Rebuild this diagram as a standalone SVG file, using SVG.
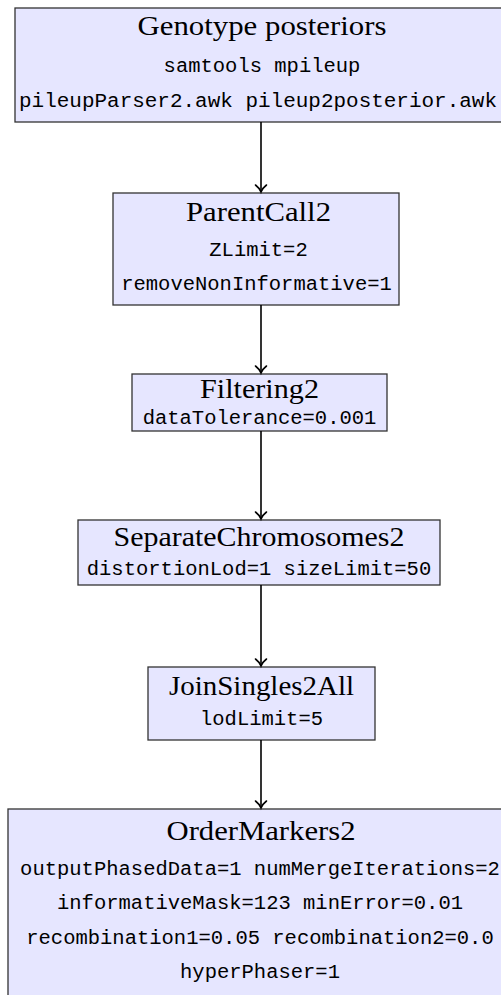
<svg xmlns="http://www.w3.org/2000/svg" width="501" height="995" viewBox="0 0 501 995">
  <style>
    .box { fill: #E6E6FF; stroke: #333333; stroke-width: 1.3; }
    .title { font-family: "Liberation Serif", "Times New Roman", serif; font-size: 27px; fill: #000; text-anchor: middle; }
    .param { font-family: "Liberation Mono", "Courier New", monospace; font-size: 20.5px; fill: #000; text-anchor: middle; }
    .edge { stroke: #000; stroke-width: 1.6; fill: none; }
  </style>
  <defs>
    <marker id="to" markerUnits="userSpaceOnUse" markerWidth="16" markerHeight="16" viewBox="-9 -8 11 16" refX="0" refY="0" orient="auto">
      <path d="M-7,-5.5 C-4.5,-2.2 -1.5,-0.6 0,0 C-1.5,0.6 -4.5,2.2 -7,5.5" fill="none" stroke="#000" stroke-width="1.6" stroke-linecap="round"/>
    </marker>
  </defs>

  <!-- pipeline stages -->
  <g id="genotype-posteriors">
    <rect class="box" x="15" y="8" width="495" height="114"/>
    <text class="title" x="262" y="35" textLength="249" lengthAdjust="spacingAndGlyphs">Genotype posteriors</text>
    <text class="param" x="262" y="72">samtools mpileup</text>
    <text class="param" x="258" y="107" textLength="478" lengthAdjust="spacingAndGlyphs">pileupParser2.awk pileup2posterior.awk</text>
  </g>

  <g id="parentcall2">
    <rect class="box" x="113" y="193" width="286" height="112"/>
    <text class="title" x="258.5" y="221" textLength="145" lengthAdjust="spacingAndGlyphs">ParentCall2</text>
    <text class="param" x="258.5" y="256">ZLimit=2</text>
    <text class="param" x="256.5" y="290">removeNonInformative=1</text>
  </g>

  <g id="filtering2">
    <rect class="box" x="132" y="374" width="255" height="57"/>
    <text class="title" x="259.5" y="398" textLength="119" lengthAdjust="spacingAndGlyphs">Filtering2</text>
    <text class="param" x="259.5" y="424">dataTolerance=0.001</text>
  </g>

  <g id="separatechromosomes2">
    <rect class="box" x="78" y="520" width="362" height="65"/>
    <text class="title" x="259" y="546" textLength="291" lengthAdjust="spacingAndGlyphs">SeparateChromosomes2</text>
    <text class="param" x="259" y="575">distortionLod=1 sizeLimit=50</text>
  </g>

  <g id="joinsingles2all">
    <rect class="box" x="148" y="667" width="227" height="73"/>
    <text class="title" x="261.5" y="695" textLength="185" lengthAdjust="spacingAndGlyphs">JoinSingles2All</text>
    <text class="param" x="261.5" y="725">lodLimit=5</text>
  </g>

  <g id="ordermarkers2">
    <rect class="box" x="8" y="809" width="510" height="200"/>
    <text class="title" x="261" y="840" textLength="189" lengthAdjust="spacingAndGlyphs">OrderMarkers2</text>
    <text class="param" x="260" y="875">outputPhasedData=1 numMergeIterations=2</text>
    <text class="param" x="260" y="909">informativeMask=123 minError=0.01</text>
    <text class="param" x="260" y="944">recombination1=0.05 recombination2=0.0</text>
    <text class="param" x="260" y="978">hyperPhaser=1</text>
  </g>

  <!-- connectors -->
  <g id="edges">
    <line class="edge" x1="261" y1="122" x2="261" y2="192" marker-end="url(#to)"/>
    <line class="edge" x1="261" y1="305" x2="261" y2="373" marker-end="url(#to)"/>
    <line class="edge" x1="261" y1="431" x2="261" y2="519" marker-end="url(#to)"/>
    <line class="edge" x1="261" y1="585" x2="261" y2="666" marker-end="url(#to)"/>
    <line class="edge" x1="261" y1="740" x2="261" y2="808" marker-end="url(#to)"/>
  </g>
</svg>
